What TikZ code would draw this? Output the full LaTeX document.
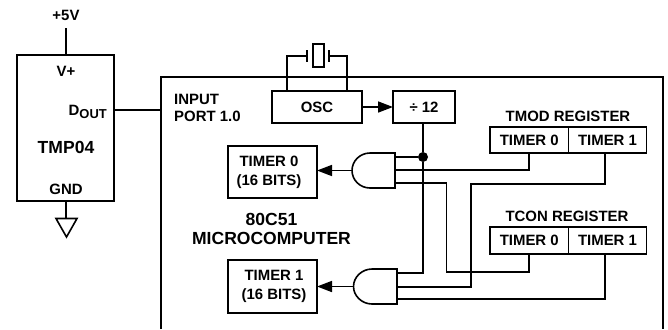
\documentclass[tikz,border=0pt]{standalone}
\usepackage{fontspec}
\setmainfont{Liberation Sans}
\usetikzlibrary{arrows.meta}
\tikzset{
  x=1bp,y=-1bp,
  wire/.style={line width=1.6bp,line join=miter},
  heavy/.style={line width=2bp},
  lbl/.style={inner sep=0pt,font=\bfseries\fontsize{15}{19}\selectfont,align=center},
  big/.style={inner sep=0pt,font=\bfseries\fontsize{17.6}{19}\selectfont,align=center},
  box/.style={draw,line width=1.7bp,inner sep=0pt,outer sep=0pt,align=center,font=\bfseries\fontsize{15}{19}\selectfont,minimum width=#1},
  arrowline/.style={wire,-{Triangle[length=15bp,width=11bp]}},
  dot/.style={circle,fill=black,inner sep=0pt,minimum size=10bp},
}
\begin{document}
\begin{tikzpicture}
\useasboundingbox (0,0) rectangle (668,329);
% outer blocks
\node[box=97bp,heavy,minimum height=146bp] (tmp) at (65.5,128) {};
\draw[heavy] (161,329) -- (161,77) -- (663,77) -- (663,329);
\coordinate (port) at (161,110);
\coordinate (dout) at (tmp.east |- port);
\coordinate (vcc) at (65.5,28);
\draw[wire] (dout) -- (port);
\draw[heavy] (vcc) -- (tmp.north);
\coordinate (gndtop) at (65.5,218);
\draw[heavy] (tmp.south) -- (gndtop);
\draw[wire] (56,218.5) -- (77,218.5) -- (66.5,237) -- cycle;
% TMP04 text
\node[lbl] (lvcc) at (66,15) {+5V};
\node[lbl] (lv) at (66,71) {V+};
\node[lbl,anchor=base east] (ld) at (107,115) {D\raisebox{-3.5bp}{\fontsize{13}{13}\selectfont OUT}};
\node[big] (ltmp) at (66,147) {TMP04};
\node[lbl] (lgnd) at (66,189) {GND};
\node[lbl,align=left,anchor=north west] (lport) at (174,94) {INPUT\\[-1.6bp]PORT 1.0};
\node[big] (lmicro) at (271.5,229) {80C51\\MICROCOMPUTER};
% OSC and divider
\node[box=90bp,minimum height=32bp] (osc) at (317,107) {OSC};
\node[box=62bp,minimum height=32bp] (div) at (424,107) {÷ 12};
\draw[arrowline] (osc) -- (div);
% crystal
\node[draw,line width=1.4bp,inner sep=0pt,minimum width=11bp,minimum height=23bp] (xtal) at (318.5,55.5) {};
\coordinate (pl) at (307,56);
\coordinate (pr) at (329,56);
\draw[wire] (307,50) -- (307,62);
\draw[wire] (329,50) -- (329,62);
\draw[wire] (287,91) -- (287,56) -- (pl);
\draw[wire] (347,91) -- (347,56) -- (pr);
% timers
\node[box=89bp,minimum height=52bp] (t0) at (272.5,172) {\kern-7bp TIMER 0\\\kern-7bp(16 BITS)};
\node[box=89bp,minimum height=53bp] (t1) at (272.5,286.5) {\kern3bp TIMER 1\\\kern3bp(16 BITS)};
% AND gates
\coordinate (g0o) at (352,170.5);
\coordinate (g0a) at (395,157);
\coordinate (g0b) at (395,170);
\coordinate (g0c) at (395,183);
\draw[wire] (370,153) -- (395,153) -- (395,188) -- (370,188)
  .. controls (360,188) and (352,180) .. (g0o) .. controls (352,161) and (360,153) .. (370,153) -- cycle;
\coordinate (g1o) at (353.5,286.5);
\coordinate (g1a) at (397,273);
\coordinate (g1b) at (397,287);
\coordinate (g1c) at (397,299);
\draw[wire] (372,269) -- (397,269) -- (397,304) -- (372,304)
  .. controls (362,304) and (353.5,296) .. (g1o) .. controls (353.5,277) and (362,269) .. (372,269) -- cycle;
\draw[arrowline] (g0o) -- (t0.east |- g0o);
\draw[arrowline] (g1o) -- (t1.east |- g1o);
% registers
\node[lbl] (ltmod) at (568,116) {TMOD REGISTER};
\node[box=78.5bp,minimum height=26bp] (m0) at (529.25,140) {TIMER 0};
\node[box=78bp,minimum height=26bp] (m1) at (607.5,140) {TIMER 1};
\node[lbl] (ltcon) at (567,216) {TCON REGISTER};
\node[box=78.5bp,minimum height=27bp] (c0) at (529.25,240.5) {TIMER 0};
\node[box=78bp,minimum height=27bp] (c1) at (607.5,240.5) {TIMER 1};
% logic wiring
\node[dot] (j) at (423,157) {};
\draw[wire] (div.south -| j) -- (j) -- (423,273) -- (g1a);
\draw[wire] (g0a) -- (j);
\draw[wire] (g0b) -- (529,170) -- (529,153);
\draw[wire] (g0c) -- (446.5,183) -- (446.5,272) -- (529,272) -- (529,254);
\draw[wire] (605,153) -- (605,184) -- (471,184) -- (471,287) -- (g1b);
\draw[wire] (605,254) -- (605,299) -- (g1c);
\end{tikzpicture}
\end{document}
